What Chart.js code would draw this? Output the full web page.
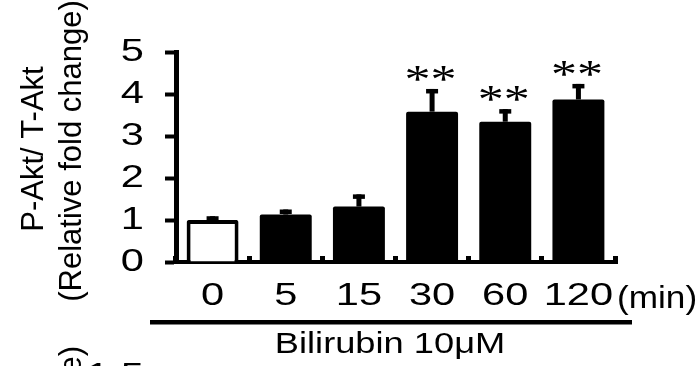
<!DOCTYPE html>
<html>
<head>
<meta charset="utf-8">
<script src="https://cdn.jsdelivr.net/npm/chart.js@4"></script>
<style>
  html, body { margin: 0; padding: 0; background: #fff; }
  canvas { display: block; }
</style>
</head>
<body>
<canvas id="myChart" width="698" height="366"></canvas>
<script>
var categories = ["0", "5", "15", "30", "60", "120"];
var foldChange = [1.0, 1.13, 1.32, 3.58, 3.34, 3.87];
var errUp = [0.09, 0.12, 0.29, 0.54, 0.30, 0.37];
var stars = ["", "", "", "**", "**", "**"];
var barColors = ["#ffffff", "#000000", "#000000", "#000000", "#000000", "#000000"];

var SANS = "'Liberation Sans', Arial, sans-serif";
var SERIF = "'Liberation Serif', 'Times New Roman', serif";

// the original figure's lettering is wider than plain Arial: stretch flat text sideways
var textStretch = 1.3;
var canvas = document.getElementById("myChart");
var ctx0 = canvas.getContext("2d");
var plainFill = ctx0.fillText;
ctx0.fillText = function (text, x, y) {
  var t = this.getTransform();
  if (t.b !== 0 || t.c !== 0 || textStretch === 1) {
    return plainFill.call(this, text, x, y);
  }
  this.save();
  this.translate(x, y);
  this.scale(textStretch, 1);
  plainFill.call(this, text, 0, 0);
  this.restore();
};

var errorBars = {
  id: "errorBars",
  afterDatasetsDraw: function (chart) {
    var ctx = chart.ctx;
    var y = chart.scales.y;
    var meta = chart.getDatasetMeta(0);
    ctx.save();
    ctx.fillStyle = "#000";
    meta.data.forEach(function (bar, i) {
      var top = y.getPixelForValue(foldChange[i] + errUp[i]);
      ctx.fillRect(bar.x - 2.5, top, 5, bar.y - top);
      ctx.fillRect(bar.x - 6, top, 12, 4.5);
      if (stars[i]) {
        ctx.font = "40px " + SERIF;
        ctx.textAlign = "center";
        ctx.textBaseline = "alphabetic";
        ctx.fillText(stars[i], bar.x - 1.5, top + 3);
      }
    });
    ctx.restore();
  }
};

var extraText = {
  id: "extraText",
  afterDraw: function (chart) {
    var ctx = chart.ctx;
    ctx.save();
    ctx.fillStyle = "#000";

    // unit after the last tick label
    textStretch = 1.1;
    ctx.font = "32px " + SANS;
    ctx.textAlign = "left";
    ctx.textBaseline = "alphabetic";
    ctx.fillText("(min)", 617, 308);

    // treatment bar
    textStretch = 1.25;
    ctx.fillRect(150, 320, 482, 4.5);
    ctx.font = "29px " + SANS;
    ctx.textAlign = "center";
    ctx.fillText("Bilirubin 10\u03bcM", 390, 353);

    // y title, two lines
    ctx.font = "31px " + SANS;
    ctx.save();
    ctx.translate(43, 149);
    ctx.rotate(-Math.PI / 2);
    ctx.textAlign = "center";
    ctx.fillText("P-Akt/ T-Akt", 0, 0);
    ctx.restore();
    ctx.save();
    ctx.translate(81, 151);
    ctx.rotate(-Math.PI / 2);
    ctx.textAlign = "center";
    ctx.fillText("(Relative fold change)", 0, 0);
    ctx.restore();

    // top of the panel below
    ctx.save();
    ctx.translate(81, 346);
    ctx.rotate(-Math.PI / 2);
    ctx.textAlign = "right";
    ctx.fillText("(Relative fold change)", 0, 0);
    ctx.restore();
    textStretch = 1.3;
    ctx.font = "32px " + SANS;
    ctx.textAlign = "right";
    ctx.fillText("1.5", 144, 385);

    ctx.restore();
  }
};

new Chart(canvas, {
  type: "bar",
  data: {
    labels: categories,
    datasets: [
      {
        data: foldChange,
        backgroundColor: barColors,
        borderColor: "#000000",
        borderWidth: [4, 0, 0, 0, 0, 0],
        borderRadius: 2,
        borderSkipped: "bottom",
        barPercentage: 0.71,
        categoryPercentage: 1.0,
      },
    ],
  },
  options: {
    responsive: false,
    animation: false,
    devicePixelRatio: 1,
    layout: { padding: { left: 0, right: 83, top: 52, bottom: 0 } },
    plugins: {
      legend: { display: false },
      tooltip: { enabled: false },
      title: { display: false },
    },
    scales: {
      x: {
        offset: true,
        grid: {
          offset: true,
          drawOnChartArea: false,
          drawTicks: true,
          tickLength: -6,
          tickWidth: 5,
          tickColor: "#000",
          color: "#000",
        },
        border: { display: true, color: "#000", width: 4 },
        ticks: {
          color: "#000",
          font: { family: SANS, size: 32 },
          padding: 21,
          maxRotation: 0,
          autoSkip: false,
        },
        afterFit: function (s) { s.height = 104; },
      },
      y: {
        min: 0,
        max: 5,
        grid: {
          drawOnChartArea: false,
          drawTicks: true,
          tickLength: 11,
          tickWidth: 4,
          tickColor: "#000",
          color: "#000",
        },
        border: { display: true, color: "#000", width: 5 },
        ticks: {
          stepSize: 1,
          color: "#000",
          font: { family: SANS, size: 32 },
          padding: 21,
        },
        afterFit: function (s) { s.width = 176; },
      },
    },
  },
  plugins: [errorBars, extraText],
});
</script>
</body>
</html>
